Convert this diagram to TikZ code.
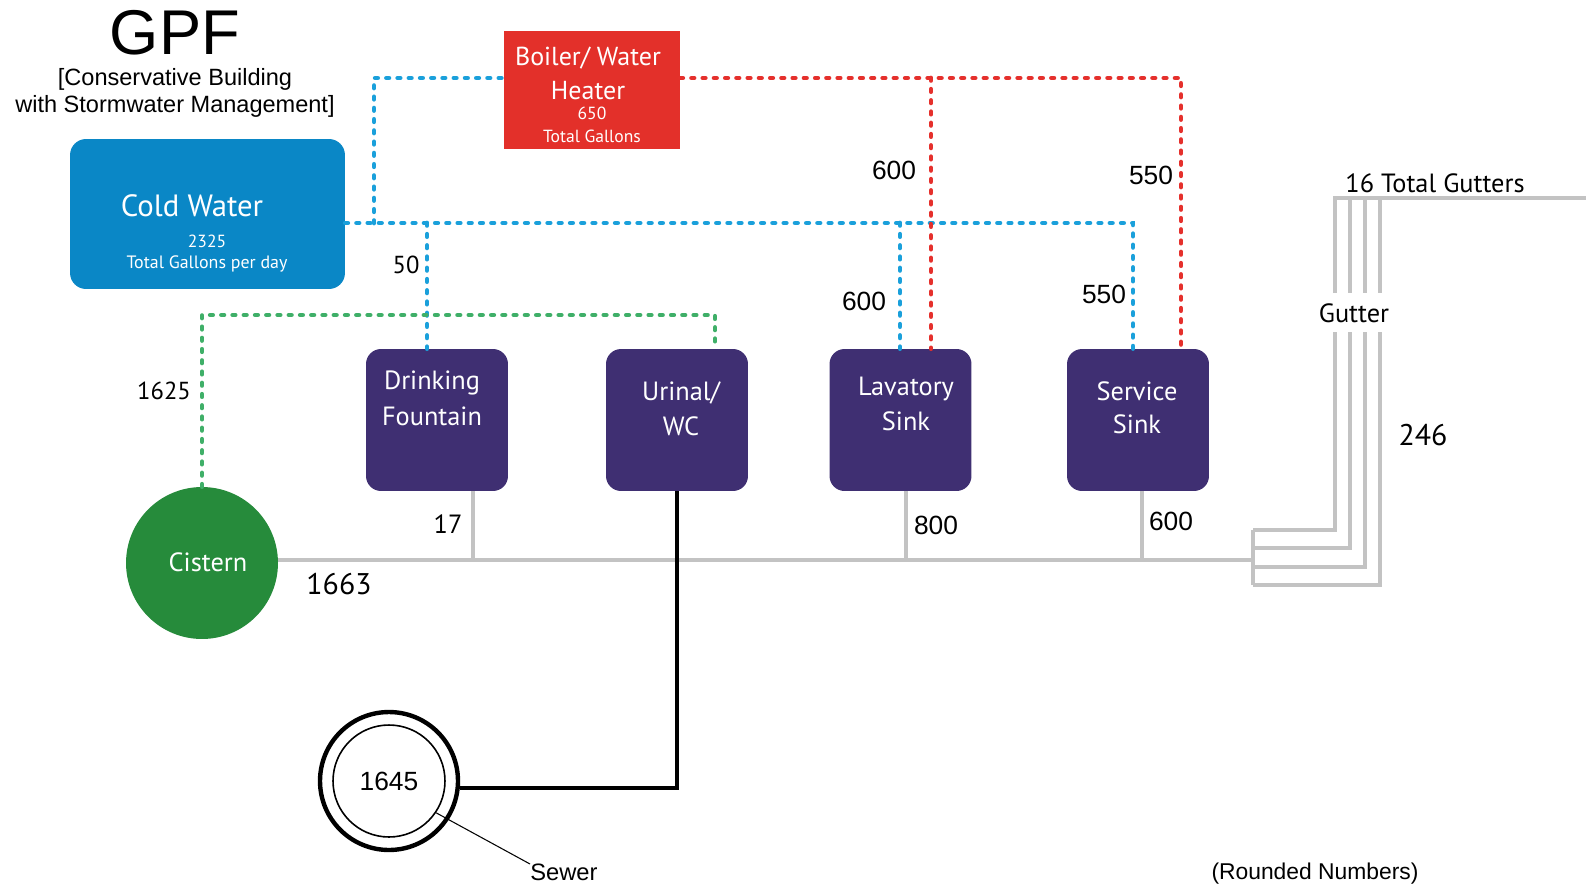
\documentclass[tikz,border=0pt]{standalone}
\usepackage{fontspec}
\setmainfont{Liberation Sans}
\newfontfamily\myr{PT Sans}
\newcommand\fsz[1]{\fontsize{#1pt}{#1pt}\selectfont}
\definecolor{cwblue}{HTML}{0A87C6}
\definecolor{boilred}{HTML}{E3302A}
\definecolor{fixpurple}{HTML}{3F2F72}
\definecolor{cisgreen}{HTML}{268B3B}
\definecolor{dotblue}{HTML}{1AA0DB}
\definecolor{dotred}{HTML}{E5302C}
\definecolor{dotgreen}{HTML}{3FAF68}
\definecolor{pipegray}{HTML}{C3C3C3}
\tikzset{
  fixture/.style={fill=fixpurple, rounded corners=0.3cm, minimum width=2.84cm, minimum height=2.84cm, inner sep=0},
  wtext/.style={text=white, inner sep=0, align=center},
  dots/.style={line width=2.7pt, line cap=round, dash pattern=on 1.4pt off 5pt},
  bluedots/.style={dots, draw=dotblue},
  reddots/.style={dots, draw=dotred},
  greendots/.style={dots, draw=dotgreen},
  pipe/.style={draw=pipegray, line width=2.3pt},
  sewpipe/.style={draw=black, line width=2.3pt},
  mlabel/.style={font=\myr\fsz{17}, inner sep=0},
  hlabel/.style={font=\fsz{15}, inner sep=0},
}
\begin{document}
\begin{tikzpicture}[x=0.02cm,y=-0.02cm]
\useasboundingbox (0,0) rectangle (1586,883);

% title
\node[font=\fsz{36}, inner sep=0] (gpf) at (175,33) {GPF};
\node[font=\fsz{13.4}, inner sep=0] (sub1) at (175,79) {{[}Conservative Building};
\node[font=\fsz{13.4}, inner sep=0] (sub2) at (175,106) {with Stormwater Management{]}};

% boxes
\node[fill=cwblue, rounded corners=0.32cm, minimum width=5.5cm, minimum height=3cm] (cw) at (207.5,214) {};
\node[wtext, font=\myr\fsz{17.5}] (cwt) at (192,206) {Cold Water};
\node[wtext, font=\myr\fsz{10}] (cwn) at (207,241) {2325};
\node[wtext, font=\myr\fsz{10.2}, anchor=base] (cwg) at (207,268) {Total Gallons per day};

\node[fill=boilred, minimum width=3.52cm, minimum height=2.36cm] (boil) at (592,90) {};
\node[wtext, font=\myr\fsz{14.8}] (bt1) at (588,58) {Boiler/ Water};
\node[wtext, font=\myr\fsz{14.8}] (bt2) at (588,91) {Heater};
\node[wtext, font=\myr\fsz{10}] (bt3) at (592,113) {650};
\node[wtext, font=\myr\fsz{10}] (bt4) at (592,136) {Total Gallons};

\node[fixture] (df) at (437,420) {};
\node[wtext, font=\myr\fsz{15}] at (432,383) {Drinking};
\node[wtext, font=\myr\fsz{15}] at (432,416) {Fountain};
\node[fixture] (ur) at (677,420) {};
\node[wtext, font=\myr\fsz{15}] at (681,393) {Urinal/};
\node[wtext, font=\myr\fsz{15}] at (681,426) {WC};
\node[fixture] (lav) at (900.5,420) {};
\node[wtext, font=\myr\fsz{15}] at (906,389) {Lavatory};
\node[wtext, font=\myr\fsz{15}] at (906,421) {Sink};
\node[fixture] (svc) at (1138,420) {};
\node[wtext, font=\myr\fsz{15}] at (1137,391) {Service};
\node[wtext, font=\myr\fsz{15}] at (1137,424) {Sink};

\node[circle, fill=cisgreen, minimum size=3.04cm, inner sep=0] (cis) at (202,563) {};
\node[wtext, font=\myr\fsz{15}] (cist) at (208,562) {Cistern};

\node[circle, draw=black, line width=2.5pt, minimum size=2.76cm, inner sep=0] (sew) at (389,781) {};
\node[circle, draw=black, line width=0.9pt, minimum size=2.24cm, inner sep=0, font=\fsz{15}] (sewin) at (389,781) {1645};
\node[font=\fsz{13.5}, inner sep=0, anchor=north west] (sewl) at (530,864) {Sewer};
\draw[line width=0.6pt] (sewin.-34) -- (sewl.north west);

% junction coordinates
\coordinate (bj) at (1133,223);
\coordinate (rj) at (1181,78);
\coordinate (gj) at (1253,560);

% blue cold water
\draw[bluedots] (cw.east |- 0,223) -- (bj) -- (1133,0 |- svc.north);
\draw[bluedots] (374,223) -- (374,78) -- (boil.west |- 0,78);
\draw[bluedots] (427,223) -- (427,0 |- df.north);
\draw[bluedots] (900,223) -- (900,0 |- lav.north);
% red hot water
\draw[reddots] (boil.east |- 0,78) -- (rj) -- (1181,0 |- svc.north);
\draw[reddots] (931,78) -- (931,0 |- lav.north);
% green cistern
\draw[greendots] (cis.north) -- (202,315) -- (715,315) -- (715,0 |- ur.north);

% gray drains
\draw[pipe] (cis.east |- gj) -- (gj);
\draw[pipe] (df.south -| 473,0) -- (473,560);
\draw[pipe] (lav.south -| 906,0) -- (906,560);
\draw[pipe] (svc.south -| 1142,0) -- (1142,560);

% gutters
\draw[pipe] (1335,293) -- (1335,198) -- (1586,198);
\foreach \x in {1350,1365,1380} { \draw[pipe] (\x,198) -- (\x,293); }
\foreach \x/\yb in {1335/530,1350/548,1365/567,1380/585} {
  \draw[pipe] (\x,332) -- (\x,\yb) -- (1253,\yb);
}
\draw[pipe] (1253,530) -- (1253,585);

% sewer
\draw[sewpipe] (ur.south) -- (677,788) -- (sew.east |- 0,788);

% labels
\node[mlabel, font=\myr\fsz{14}] (l50) at (406,265) {50};
\node[hlabel] (l600a) at (894,170) {600};
\node[hlabel] (l550a) at (1151,175) {550};
\node[hlabel] (l600b) at (864,301) {600};
\node[hlabel] (l550b) at (1104,294) {550};
\node[mlabel, font=\myr\fsz{14}] (l1625) at (164,391) {1625};
\node[mlabel, font=\myr\fsz{15}] (l17) at (448,524) {17};
\node[hlabel] (l800) at (936,525) {800};
\node[hlabel] (l600c) at (1171,521) {600};
\node[mlabel] (l1663) at (339,584) {1663};
\node[mlabel] (l246) at (1423,435) {246};
\node[mlabel, font=\myr\fsz{15}] (ltot) at (1435,183) {16 Total Gutters};
\node[mlabel, font=\myr\fsz{15}] (lgut) at (1354,313) {Gutter};
\node[font=\fsz{13}, inner sep=0] (lround) at (1315,874) {(Rounded Numbers)};
\end{tikzpicture}
\end{document}
